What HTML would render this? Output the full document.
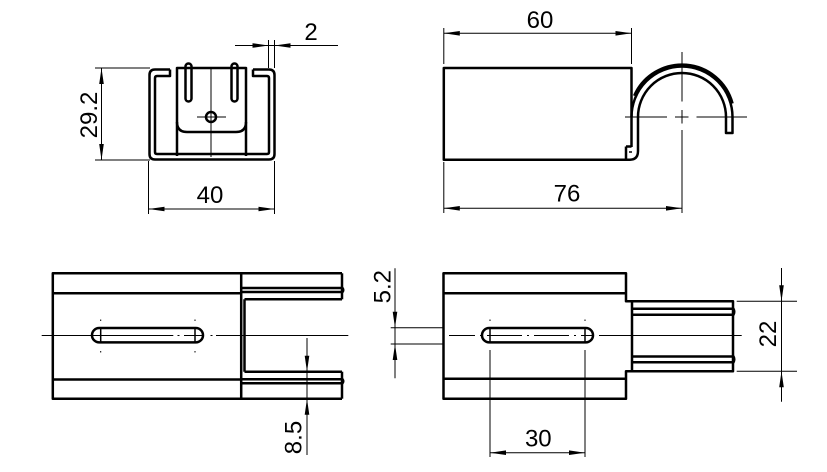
<!DOCTYPE html>
<html><head><meta charset="utf-8"><style>
html,body{margin:0;padding:0;background:#fff}
svg{display:block}
.k{stroke:#000;stroke-width:2.5;fill:none;stroke-linejoin:round}
.m{stroke:#000;stroke-width:1.5;fill:none}
.t{stroke:#000;stroke-width:1;fill:none}
text{font-family:"Liberation Sans",sans-serif;font-size:24px;fill:#000}
polygon{fill:#000;stroke:none}
</style></head><body>
<svg width="827" height="472" viewBox="0 0 827 472" xmlns="http://www.w3.org/2000/svg">

<!-- ===== FRONT VIEW (top-left) ===== -->
<path class="k" d="M170,69.5 H155 Q149.5,69.5 149.5,75 V154 Q149.5,159.5 155,159.5 H269 Q274.5,159.5 274.5,154 V75 Q274.5,69.5 269,69.5 H253"/>
<path class="k" d="M170,69.5 V76 H157 Q155,76 155,78 V152 Q155,154 157,154 H267 Q269,154 269,152 V78 Q269,76 267,76 H253 V69.5"/>
<!-- bracket -->
<path class="k" d="M177,156 V68 H246 V156"/>
<path class="k" d="M177,122 Q177,132 187,132 H236 Q246,132 246,122"/>
<rect class="k" x="185.5" y="63.5" width="6" height="38" rx="3"/>
<rect class="k" x="231.5" y="63.5" width="6" height="38" rx="3"/>
<circle class="k" cx="211" cy="117" r="5"/>
<line class="t" x1="197" y1="117" x2="226" y2="117"/>
<line class="t" x1="211" y1="68" x2="211" y2="157"/>

<!-- 29.2 -->
<line class="t" x1="95" y1="68" x2="150" y2="68"/>
<line class="t" x1="95" y1="160" x2="150" y2="160"/>
<line class="t" x1="101.5" y1="68" x2="101.5" y2="160"/>
<polygon points="101.5,68 99.2,84 103.8,84"/>
<polygon points="101.5,160 99.2,144 103.8,144"/>
<text transform="translate(88.3,115) rotate(-90)" text-anchor="middle" dy="8.6">29.2</text>
<!-- 40 -->
<line class="t" x1="148.5" y1="161" x2="148.5" y2="214"/>
<line class="t" x1="274.5" y1="161" x2="274.5" y2="214"/>
<line class="t" x1="148.5" y1="209" x2="274.5" y2="209"/>
<polygon points="148.5,209 164.5,206.7 164.5,211.3"/>
<polygon points="274.5,209 258.5,206.7 258.5,211.3"/>
<text x="210" y="203" text-anchor="middle">40</text>
<!-- 2 -->
<line class="t" x1="268.5" y1="40" x2="268.5" y2="68"/>
<line class="t" x1="274.5" y1="40" x2="274.5" y2="68"/>
<line class="t" x1="235" y1="45.5" x2="338" y2="45.5"/>
<polygon points="268.5,45.5 252.5,43.2 252.5,47.8"/>
<polygon points="274.5,45.5 290.5,43.2 290.5,47.8"/>
<text x="311" y="40" text-anchor="middle">2</text>

<!-- ===== SIDE VIEW (top-right) ===== -->
<path class="k" d="M631.5,147 V68 H443.8 V159.7 H630 Q638,159.7 638,151 V117"/>
<path class="k" d="M626,146.5 H631.5 M626,146.5 V159.7"/>
<path class="m" d="M629,152 H632"/>
<path class="k" d="M631.5,117 A50.5,50.5 0 0 1 732.5,117 V133 H726 V117 A44,44 0 0 0 638,117"/>
<path d="M634.1,95.7 A52.4,52.4 0 0 1 732.6,103.4" stroke="#000" stroke-width="2.4" fill="none"/>
<!-- center lines -->
<path class="t" d="M625,117 H667 M675,117 H688.5 M696.5,117 H747"/>
<path class="t" d="M682,52 V101.5 M682,110 V123.5 M682,130 V213"/>
<!-- 60 -->
<line class="t" x1="443.8" y1="28" x2="443.8" y2="64"/>
<line class="t" x1="631.5" y1="28" x2="631.5" y2="64"/>
<line class="t" x1="443.8" y1="33.3" x2="631.5" y2="33.3"/>
<polygon points="443.8,33.3 459.8,31 459.8,35.6"/>
<polygon points="631.5,33.3 615.5,31 615.5,35.6"/>
<text x="540" y="28" text-anchor="middle">60</text>
<!-- 76 -->
<line class="t" x1="443.8" y1="162" x2="443.8" y2="213"/>
<line class="t" x1="443.8" y1="208.3" x2="682" y2="208.3"/>
<polygon points="443.8,208.3 459.8,206 459.8,210.6"/>
<polygon points="682,208.3 666,206 666,210.6"/>
<text x="567" y="201.7" text-anchor="middle">76</text>

<!-- ===== BOTTOM-LEFT VIEW ===== -->
<path class="k" d="M342,273.3 H52.8 V398.7 H342"/>
<line class="k" x1="241.2" y1="273.3" x2="241.2" y2="398.7"/>
<line class="k" x1="52.8" y1="293.3" x2="241.2" y2="293.3"/>
<line class="k" x1="52.8" y1="379.5" x2="241.2" y2="379.5"/>
<!-- top prong -->
<line class="k" x1="342" y1="273.3" x2="342" y2="299.3"/>
<path class="k" d="M241.2,288 H342.5 Q344,290 342.5,292 H241.2"/>
<line class="k" x1="244.5" y1="299.3" x2="342" y2="299.3"/>
<!-- bottom prong -->
<line class="k" x1="342" y1="371.7" x2="342" y2="398.7"/>
<line class="k" x1="244.5" y1="371.7" x2="342" y2="371.7"/>
<path class="k" d="M241.2,379.3 H342.5 Q344,381.3 342.5,383.3 H241.2"/>
<line class="k" x1="244.5" y1="299.3" x2="244.5" y2="371.7"/>
<!-- slot -->
<rect class="k" x="92" y="328" width="111" height="14.4" rx="7.2"/>
<line class="m" x1="100.7" y1="328" x2="100.7" y2="342.4"/>
<line class="m" x1="195" y1="328" x2="195" y2="342.4"/>
<path class="t" d="M100.7,319.5 v1.5 M100.7,351 v1.5 M195,319.5 v1.5 M195,351 v1.5"/>
<path class="t" d="M41.7,335.5 H173.3 M177.5,335.5 H179.5 M184,335.5 H203 M210.5,335.5 H212.5 M216,335.5 H348.3"/>
<!-- 8.5 -->
<line class="t" x1="307" y1="338" x2="307" y2="455"/>
<polygon points="307,371.7 304.7,355.7 309.3,355.7"/>
<polygon points="307,398.7 304.7,414.7 309.3,414.7"/>
<text transform="translate(293,437.5) rotate(-90)" text-anchor="middle" dy="8.6">8.5</text>

<!-- ===== BOTTOM-RIGHT VIEW ===== -->
<path class="k" d="M443.5,273.3 H626 V301.3 H733 V371.3 H626 V398.7 H443.5 Z"/>
<line class="k" x1="632" y1="301.3" x2="632" y2="371.3"/>
<line class="k" x1="443.5" y1="293.3" x2="626" y2="293.3"/>
<line class="k" x1="443.5" y1="378.7" x2="626" y2="378.7"/>
<path class="k" d="M632,308.8 H733.5 Q735,311.7 733.5,314.7 H632"/>
<path class="k" d="M632,356.5 H733.5 Q735,359.4 733.5,362.3 H632"/>
<!-- slot -->
<rect class="k" x="482" y="328" width="111" height="14.4" rx="7.2"/>
<line class="m" x1="490" y1="328" x2="490" y2="342.4"/>
<line class="m" x1="585" y1="328" x2="585" y2="342.4"/>
<path class="t" d="M490,319.5 v1.5 M585,319.5 v1.5"/>
<path class="t" d="M449,335.5 H475 M480,335.5 H482 M487,335.5 H522 M527,335.5 H529 M534,335.5 H569 M574,335.5 H576 M581,335.5 H592 M599,335.5 H741.7"/>
<!-- 30 -->
<line class="t" x1="490" y1="350" x2="490" y2="457"/>
<line class="t" x1="585" y1="350" x2="585" y2="457"/>
<line class="t" x1="490" y1="452.7" x2="585" y2="452.7"/>
<polygon points="490,452.7 506,450.4 506,455"/>
<polygon points="585,452.7 569,450.4 569,455"/>
<text x="538.3" y="446.5" text-anchor="middle">30</text>
<!-- 5.2 -->
<line class="t" x1="395" y1="268.3" x2="395" y2="378.3"/>
<line class="t" x1="390.7" y1="327.7" x2="443" y2="327.7"/>
<line class="t" x1="390.7" y1="344" x2="443" y2="344"/>
<polygon points="395,327.7 392.7,311.7 397.3,311.7"/>
<polygon points="395,344 392.7,360 397.3,360"/>
<text transform="translate(381.7,286.7) rotate(-90)" text-anchor="middle" dy="8.6">5.2</text>
<!-- 22 -->
<line class="t" x1="781.5" y1="268" x2="781.5" y2="401.7"/>
<line class="t" x1="736.7" y1="301.3" x2="797" y2="301.3"/>
<line class="t" x1="736.7" y1="371.3" x2="797" y2="371.3"/>
<polygon points="781.5,301.3 779.2,285.3 783.8,285.3"/>
<polygon points="781.5,371.3 779.2,387.3 783.8,387.3"/>
<text transform="translate(767.5,334) rotate(-90)" text-anchor="middle" dy="8.6">22</text>

</svg>
</body></html>
